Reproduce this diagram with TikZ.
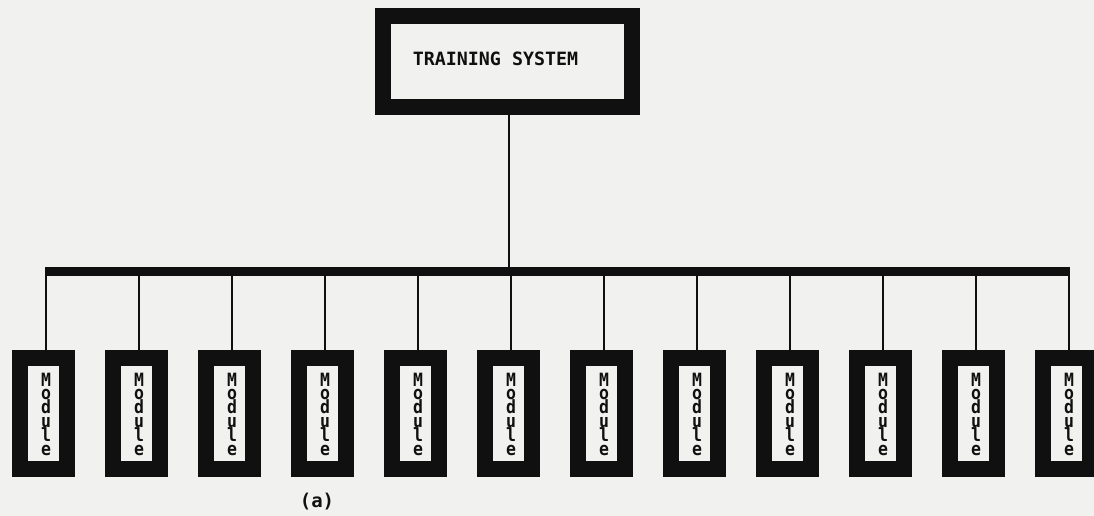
\documentclass[tikz,border=0pt]{standalone}
\usepackage{fontspec}
\setmonofont{DejaVu Sans Mono}
\usepackage{graphicx}
\definecolor{paper}{RGB}{241,241,239}
\definecolor{ink}{RGB}{16,16,16}
% font for the stacked module labels: fixed line pitch, no extra line skip
\newcommand{\stackfont}{\ttfamily\bfseries\fontsize{15}{13.8}\selectfont
  \setlength{\lineskiplimit}{-30pt}\setlength{\lineskip}{0pt}}
\tikzset{
  heavybox/.style={draw=ink, line width=16pt, fill=paper, inner sep=0pt},
  sysbox/.style={heavybox, minimum width=249pt, minimum height=91pt},
  modbox/.style={heavybox, minimum width=47pt, minimum height=111pt},
  wire/.style={draw=ink, line width=2.6pt},
  busline/.style={draw=ink, line width=9pt},
  stacklabel/.style={inner sep=0pt, anchor=north, align=center, text=ink, font=\stackfont},
}
% tall, narrow letter for the stacked module labels
\newcommand{\tallglyph}[1]{\scalebox{1.1}[1.22]{#1}}
\begin{document}
\begin{tikzpicture}[x=1pt,y=-1pt]
  \fill[paper] (0,0) rectangle (1094,516);
  \useasboundingbox (0,0) rectangle (1094,516);

  % top-level system box
  \node[sysbox] (ts) at (507.5,61.5) {};
  \node[inner sep=0pt, text=ink, font=\ttfamily\bfseries\fontsize{18.3}{20}\selectfont]
    (tstitle) at (495.5,58.5) {TRAINING SYSTEM};

  % horizontal bus
  \coordinate (busL) at (45,271);
  \coordinate (busR) at (1070,271);
  \coordinate (busC) at (509,271);
  \draw[busline] (busL) -- (busR);
  \draw[wire] (ts.south -| busC) -- (busC);

  % the twelve modules, label letters stacked top to bottom
  \foreach \i in {0,...,11} {
    \pgfmathsetmacro{\dx}{46+93*\i}
    \node[modbox] (m\i) at ({\dx-3},413.5) {};
    \draw[wire] ([xshift=3pt]m\i.north) -- ([xshift=3pt]m\i.north |- busL);
    \node[stacklabel] (lab\i) at ([xshift=3pt,yshift=41pt]m\i.center)
      {\tallglyph{M}\\ \tallglyph{o}\\ \tallglyph{d}\\ \tallglyph{u}\\ \tallglyph{l}\\ \tallglyph{e}};
  }

  % caption
  \node[inner sep=0pt, text=ink, font=\ttfamily\bfseries\fontsize{19}{19}\selectfont]
    (cap) at (317,502) {(a)};
\end{tikzpicture}
\end{document}
